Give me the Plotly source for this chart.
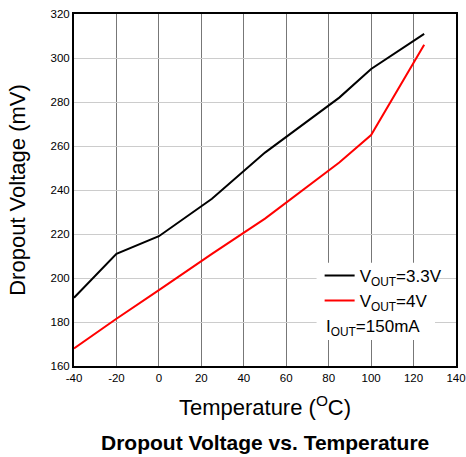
import plotly.graph_objects as go

temps = [-40, -20, 0, 25, 50, 85, 100, 125]
vout_33 = [191, 211, 219, 236, 257, 282, 295, 311]
vout_4 = [168, 181.5, 194.5, 211, 227, 252.5, 265, 306]

x_ticks = [-40, -20, 0, 20, 40, 60, 80, 100, 120, 140]
y_ticks = [160, 180, 200, 220, 240, 260, 280, 300, 320]

FONT = "Liberation Sans, Arial, sans-serif"

fig = go.Figure()
fig.add_trace(go.Scatter(x=temps, y=vout_33, mode="lines", name="V<sub>OUT</sub>=3.3V",
                         line=dict(color="#000000", width=2)))
fig.add_trace(go.Scatter(x=temps, y=vout_4, mode="lines", name="V<sub>OUT</sub>=4V",
                         line=dict(color="#ff0000", width=2)))

fig.update_layout(
    width=466, height=457,
    margin=dict(l=74, r=10, t=14, b=91, autoexpand=False),
    paper_bgcolor="white", plot_bgcolor="white",
    font=dict(family=FONT, color="black"),
    legend=dict(x=0.643, y=0.307, xanchor="left", yanchor="top", bgcolor="rgba(0,0,0,0)",
                font=dict(size=17, family=FONT), itemwidth=30, tracegroupgap=0),
    showlegend=True,
    shapes=[dict(type="rect", xref="paper", yref="paper", x0=0.635, x1=0.945, y0=0.074, y1=0.293,
                 fillcolor="white", line=dict(width=0), layer="above")],
    annotations=[
        dict(text="I<sub>OUT</sub>=150mA", xref="paper", yref="paper", x=0.655, y=0.108,
             xanchor="left", yanchor="middle", showarrow=False,
             font=dict(size=17, family=FONT)),
        dict(text="<b>Dropout Voltage vs. Temperature</b>", xref="paper", yref="paper",
             x=0.5, y=-0.217, xanchor="center", yanchor="middle", showarrow=False,
             font=dict(size=21, family=FONT)),
    ],
)

fig.update_xaxes(range=[-40, 140], tickvals=x_ticks, ticktext=[str(v) for v in x_ticks],
                 showline=True, linecolor="black", linewidth=2, mirror=True,
                 showgrid=True, gridcolor="#777777", gridwidth=1, zeroline=False,
                 ticks="", tickfont=dict(size=11.5), automargin=False,
                 title=dict(text="Temperature (<sup>O</sup>C)", font=dict(size=22), standoff=17))
fig.update_yaxes(range=[160, 320], tickvals=y_ticks, ticktext=[str(v) for v in y_ticks],
                 showline=True, linecolor="black", linewidth=2, mirror=True,
                 showgrid=True, gridcolor="#cccccc", gridwidth=1, zeroline=False,
                 ticks="", tickfont=dict(size=11.5), automargin=False,
                 title=dict(text="Dropout Voltage (mV)", font=dict(size=22), standoff=19))

fig.write_html("out.html", config={"displayModeBar": False},
               post_script="document.body.style.margin='0';document.body.style.padding='0';")
